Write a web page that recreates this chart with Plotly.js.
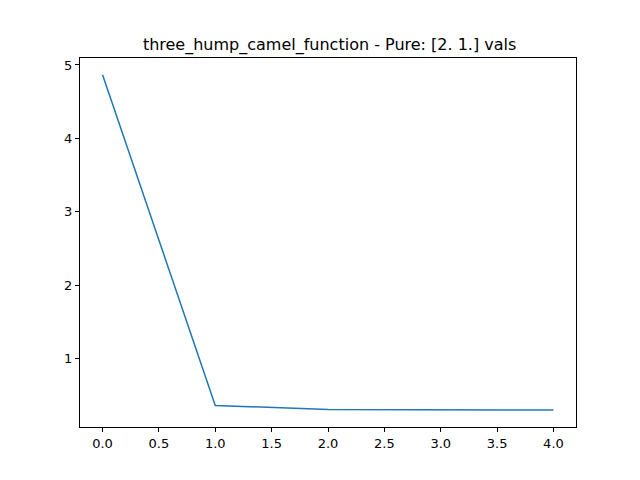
<!DOCTYPE html>
<html>
<head>
<script src="https://cdn.plot.ly/plotly-3.0.1.min.js"></script>
<style>body{margin:0}</style>
</head>
<body>
<div id="chart" style="width:640px;height:480px"></div>
<script>
// iteration index vs. function value
var steps = [0, 1, 2, 3, 4];
var vals = [4.867, 0.363, 0.31, 0.302, 0.300];

var trace = {
  x: steps,
  y: vals,
  mode: 'lines',
  line: {color: '#1f77b4', width: 1.5},
  type: 'scatter'
};

var axisStyle = {
  showgrid: false,
  zeroline: false,
  showline: true,
  mirror: true,
  linecolor: 'black',
  linewidth: 1,
  ticks: 'outside',
  ticklen: 4,
  tickcolor: 'black',
  tickfont: {size: 13, color: 'black'}
};

var layout = {
  width: 640,
  height: 480,
  showlegend: false,
  font: {family: 'DejaVu Sans', color: 'black'},
  paper_bgcolor: 'white',
  plot_bgcolor: 'white',
  margin: {l: 80, r: 64, t: 58, b: 53},
  title: {text: 'three_hump_camel_function - Pure: [2. 1.] vals', font: {size: 16}, x: 0.515, y: 0.907, xanchor: 'center', yanchor: 'middle'},
  xaxis: Object.assign({range: [-0.2, 4.2], tickvals: [0, 0.5, 1, 1.5, 2, 2.5, 3, 3.5, 4], ticktext: ['0.0','0.5','1.0','1.5','2.0','2.5','3.0','3.5','4.0']}, axisStyle),
  yaxis: Object.assign({range: [0.07, 5.095], tickvals: [1, 2, 3, 4, 5]}, axisStyle)
};

Plotly.newPlot('chart', [trace], layout, {displayModeBar: false});
</script>
</body>
</html>
